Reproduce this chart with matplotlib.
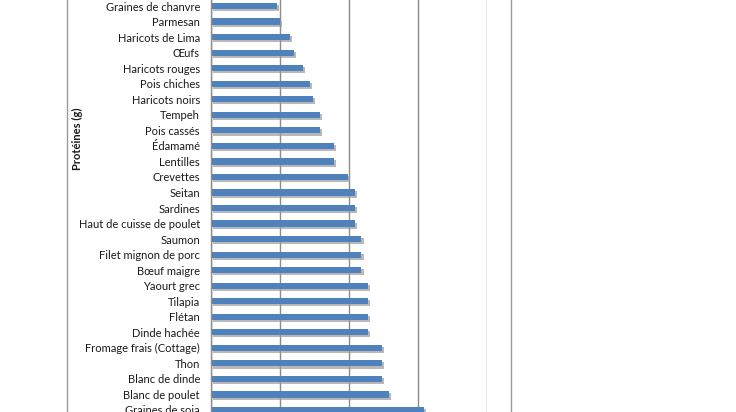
import matplotlib.pyplot as plt
import matplotlib.patheffects as pe
from matplotlib.lines import Line2D

# Protein content per food, top to bottom as shown
foods = [
    "Graines de chanvre", "Parmesan", "Haricots de Lima", "Œufs",
    "Haricots rouges", "Pois chiches", "Haricots noirs", "Tempeh",
    "Pois cassés", "Édamamé", "Lentilles", "Crevettes", "Seitan",
    "Sardines", "Haut de cuisse de poulet", "Saumon", "Filet mignon de porc",
    "Bœuf maigre", "Yaourt grec", "Tilapia", "Flétan", "Dinde hachée",
    "Fromage frais (Cottage)", "Thon", "Blanc de dinde", "Blanc de poulet",
    "Graines de soja",
]
protein = [
    9.5, 10, 11.5, 12, 13.3, 14.3, 14.8, 15.8,
    15.8, 17.8, 17.8, 19.8, 20.8,
    20.8, 20.8, 21.8, 21.8,
    21.8, 22.8, 22.8, 22.8, 22.8,
    24.8, 24.8, 24.8, 25.8,
    30.8,
]
xticks = [0, 10, 20, 30, 40]

plt.rcParams['font.family'] = ['Lato', 'DejaVu Sans']

fig = plt.figure(figsize=(7.36, 4.12), dpi=100)
ax = fig.add_axes([211 / 736, 0, (487 - 211) / 736, 1])

pos = list(range(len(foods)))
bars = ax.barh(pos, protein, height=0.4, color='#4F81BD', zorder=3)
for b in bars:
    b.set_path_effects([
        pe.SimplePatchShadow(offset=(1.5, -1.5), shadow_rgbFace='#9a9a9a', alpha=0.7),
        pe.Normal(),
    ])

ax.set_xlim(0, 40)
ax.set_ylim(26.13, -0.39)
ax.set_xticks(xticks)
ax.set_yticks(pos)
ax.set_yticklabels(foods, fontsize=8, color='#1a1a1a')
ax.tick_params(axis='y', length=0, pad=8)
ax.tick_params(axis='x', length=0, labelbottom=False)
ax.grid(axis='x', color='#8c8c8c', linewidth=1)
ax.set_axisbelow(True)
for s in ['top', 'right', 'bottom']:
    ax.spines[s].set_visible(False)
ax.spines['left'].set_color('#8c8c8c')
ax.spines['left'].set_linewidth(1)
ax.spines['left'].set_zorder(4)

# chart frame edges
for xp in (67, 511):
    fig.add_artist(Line2D([xp / 736, xp / 736], [0, 1], color='#9a9a9a', linewidth=1))

fig.text(77 / 736, 1 - 139 / 412, "Protéines (g)", rotation=90, ha='center', va='center',
         fontsize=8, fontweight='bold', color='#1a1a1a')

fig.savefig('out.png', dpi=100)
